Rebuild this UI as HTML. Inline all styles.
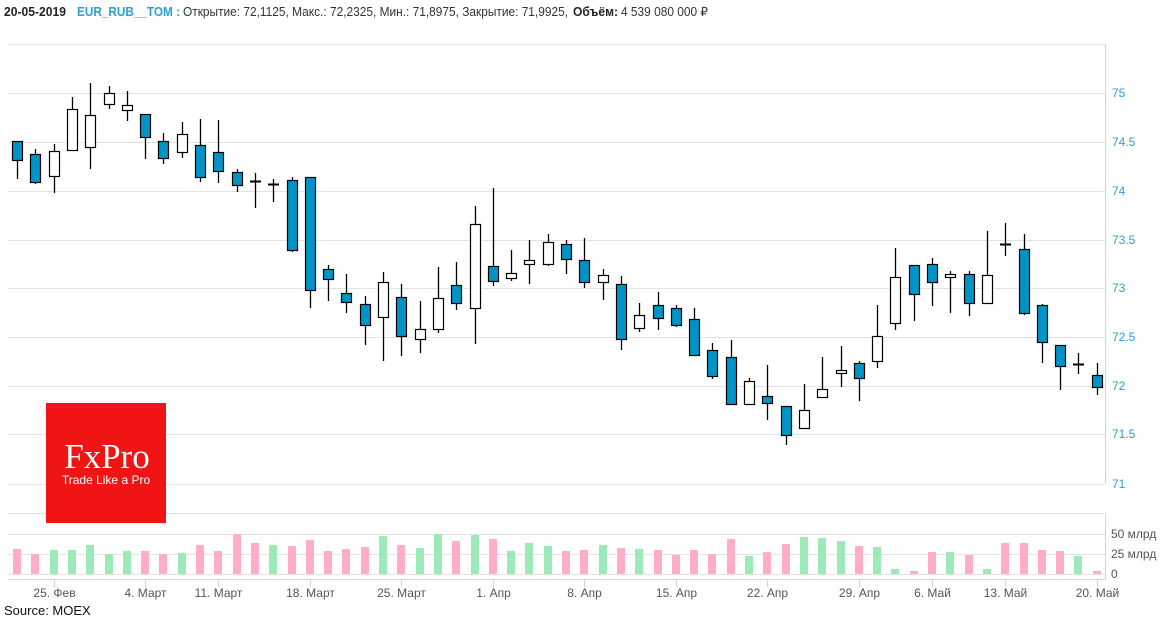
<!DOCTYPE html>
<html><head><meta charset="utf-8"><style>
html,body{margin:0;padding:0;background:#fff;}
svg{display:block;font-family:"Liberation Sans",sans-serif;}
</style></head><body>
<svg id="s" width="1160" height="620" viewBox="0 0 1160 620" xmlns="http://www.w3.org/2000/svg">
<text x="4" y="16" font-size="12.5" font-weight="bold" fill="#222" textLength="62" lengthAdjust="spacingAndGlyphs">20-05-2019</text>
<text x="77" y="16" font-size="12.5" font-weight="bold" fill="#2a9fd6" textLength="103" lengthAdjust="spacingAndGlyphs">EUR_RUB__TOM :</text>
<text x="183" y="16" font-size="12.5" fill="#333" textLength="385" lengthAdjust="spacingAndGlyphs">Открытие: 72,1125, Макс.: 72,2325, Мин.: 71,8975, Закрытие: 71,9925,</text>
<text x="573" y="16" font-size="12.5" font-weight="bold" fill="#222" textLength="45" lengthAdjust="spacingAndGlyphs">Объём:</text>
<text x="621" y="16" font-size="12.5" fill="#333" textLength="87" lengthAdjust="spacingAndGlyphs">4 539 080 000 ₽</text>
<g id="grid" stroke="#e3e3e3" stroke-width="1"></g>
<line x1="1105.5" y1="44" x2="1105.5" y2="484" stroke="#ccd6eb"/>
<line x1="1105.5" y1="513" x2="1105.5" y2="579" stroke="#ccd6eb"/>
<line x1="8" y1="579.5" x2="1106" y2="579.5" stroke="#ccd6eb"/>
<g id="plabels" font-size="12" fill="#2a9fd6"></g>
<g font-size="12" fill="#555">
<text x="1111" y="538">50 млрд</text>
<text x="1111" y="558">25 млрд</text>
<text x="1111" y="578">0</text>
</g>
<g id="vol"></g>
<g id="cand"></g>
<g id="dates" font-size="12" fill="#555" text-anchor="middle"></g>
<rect x="46" y="403" width="120" height="120" fill="#f01414"/>
<text x="107" y="468" font-family="Liberation Serif,serif" font-size="35" fill="#fff" text-anchor="middle">FxPro</text>
<text x="106" y="484" font-size="12" fill="#fff" text-anchor="middle">Trade Like a Pro</text>
<text x="4" y="615" font-size="13" fill="#111">Source: MOEX</text>
</svg>
<script>
(function(){
var NS="http://www.w3.org/2000/svg";
function el(p,t,a,txt){var e=document.createElementNS(NS,t);for(var k in a)e.setAttribute(k,a[k]);if(txt)e.textContent=txt;document.getElementById(p).appendChild(e);return e;}
[44,93,142,191,240,288,337,386,434,484,513,534,554,574].forEach(function(y){el("grid","line",{x1:8,x2:1105,y1:y+0.5,y2:y+0.5});});
[[75,93],[74.5,142],[74,191],[73.5,240],[73,288],[72.5,337],[72,386],[71.5,434],[71,484]].forEach(function(p){el("plabels","text",{x:1112,y:p[1]+4},String(p[0]));});
var C=[
['b',141,160,141,179],['b',154,182,149,184],['w',151,176,144,193],['w',109,150,97,150],['w',115,147,83,169],
['w',93,104,86,109],['w',105,110,91,121],['b',114,137,114,159],['b',141,158,133,164],['w',134,152,122,158],
['b',145,177,119,182],['b',152,171,120,183],['b',172,185,169,192],['d',181,181,173,208],['d',184,184,179,202],
['b',180,250,177,252],['b',177,290,177,308],['b',269,279,265,301],['b',293,302,274,313],['b',304,325,296,345],
['w',282,317,272,361],['b',297,336,284,356],['w',329,339,301,353],['w',298,329,267,333],['b',285,303,262,310],
['w',224,308,206,344],['b',266,281,188,286],['w',273,278,250,281],['w',260,264,240,284],['w',242,264,234,266],
['b',244,259,240,274],['b',260,282,238,288],['w',275,282,269,300],['b',284,339,276,350],['w',315,328,303,332],
['b',305,318,292,330],['b',308,325,305,327],['b',319,355,308,355],['b',350,376,343,379],['b',357,404,340,404],
['w',381,404,378,404],['b',396,403,365,420],['b',406,435,406,445],['w',410,428,384,428],['w',389,397,357,397],
['w',370,373,346,387],['b',363,378,361,401],['w',336,361,305,368],['w',277,323,248,330],['b',265,294,265,321],
['b',264,282,258,306],['w',274,277,271,313],['b',274,303,271,316],['w',275,303,231,303],['d',244,244,223,256],
['b',249,313,234,315],['b',305,342,304,363],['b',345,366,345,390],['d',364,364,353,374],['b',375,387,363,395]];
var V=[[72,0],[87,0],[75,1],[75,1],[60,1],[87,1],[78,1],[78,0],[87,0],[84,1],
[60,0],[78,0],[27,0],[54,0],[60,1],[63,0],[45,0],[78,0],[72,0],[66,0],
[33,1],[60,0],[69,1],[27,1],[48,0],[30,1],[42,0],[78,1],[54,1],[63,1],
[78,0],[75,0],[60,1],[69,0],[72,1],[75,0],[90,0],[75,0],[87,0],[42,0],
[93,1],[81,0],[57,0],[36,1],[39,1],[48,1],[63,0],[66,1],[132,1],[138,0],
[81,0],[81,1],[90,0],[132,1],[54,0],[54,0],[75,0],[78,0],[93,1],[138,0]];
for(var i=0;i<60;i++){
 var cx=Math.round(17+18.3*i);
 var v=V[i],vt=525+v[0]/3;
 el("vol","rect",{x:cx-4,y:vt,width:8,height:574-vt,fill:v[1]?"#9de9b7":"#ffadc8"});
 var c=C[i];
 el("cand","line",{x1:cx+0.5,x2:cx+0.5,y1:c[3],y2:c[4],stroke:"#000","stroke-width":1.3});
 if(c[0]=='d'){el("cand","line",{x1:cx-5,x2:cx+6,y1:c[1]+0.5,y2:c[1]+0.5,stroke:"#000","stroke-width":2});}
 else el("cand","rect",{x:cx-4.5,y:c[1]+0.5,width:10,height:Math.max(c[2]-c[1],2),fill:c[0]=='b'?"#0093c6":"#fff",stroke:"#000","stroke-width":1.2});
}
[[2,"25. Фев"],[7,"4. Март"],[11,"11. Март"],[16,"18. Март"],[21,"25. Март"],[26,"1. Апр"],[31,"8. Апр"],[36,"15. Апр"],[41,"22. Апр"],[46,"29. Апр"],[50,"6. Май"],[54,"13. Май"],[59,"20. Май"]].forEach(function(d){
 var x=Math.round(17+18.3*d[0])+0.5;
 el("grid","line",{x1:x,x2:x,y1:579,y2:587,stroke:"#ccd6eb"});
 el("dates","text",{x:x,y:597},d[1]);
});
})();
</script>
</body></html>
